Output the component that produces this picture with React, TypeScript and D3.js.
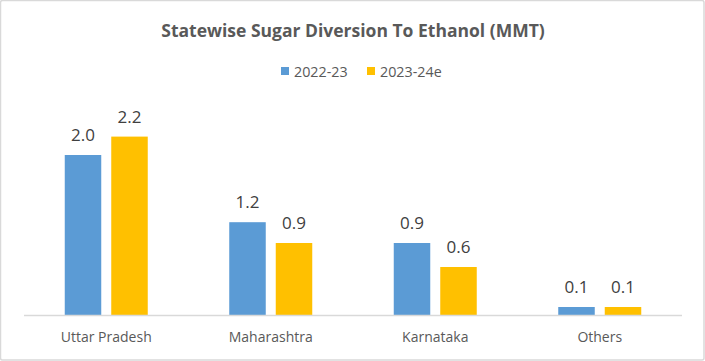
import React from "react";
import * as d3 from "d3";

const categories = ["Uttar Pradesh", "Maharashtra", "Karnataka", "Others"];
const seriesNames = ["2022-23", "2023-24e"];
const values2022 = [2.0, 1.16, 0.9, 0.1];
const values2023 = [2.23, 0.9, 0.6, 0.1];
const colors = ["#5B9BD5", "#FFC000"];
const title = "Statewise Sugar Diversion To Ethanol (MMT)";

const W = 705;
const H = 361;
const FONT = "'Open Sans', 'Liberation Sans', sans-serif";

export default function App() {
  const x = d3.scaleBand<string>().domain(categories).range([24, 682]);
  const y = d3.scaleLinear().domain([0, 2.5]).range([315, 115]);
  const barW = 36.5;
  const gap = 10;
  const series = [values2022, values2023];

  return (
    <div style={{ position: "absolute", left: 0, top: 0 }}>
      <svg width={W} height={H} style={{ display: "block", fontFamily: FONT }}>
        <rect x={0.5} y={0.5} width={W - 1.5} height={H - 1.5} fill="#fff" stroke="#D9D9D9" strokeWidth={1.5} rx={2} />
        <text x={353} y={37} textAnchor="middle" fontSize={17.5} fontWeight="bold" fill="#595959">
          {title}
        </text>
        {seriesNames.map((s, i) => {
          const lx = i === 0 ? 281 : 367;
          return (
            <g key={s}>
              <rect x={lx} y={67} width={8} height={8} fill={colors[i]} />
              <text x={lx + 13} y={76.5} fontSize={14.3} fill="#595959">
                {s}
              </text>
            </g>
          );
        })}
        {categories.map((c, ci) => {
          const cx = (x(c) as number) + x.bandwidth() / 2;
          return (
            <g key={c}>
              {series.map((vals, si) => {
                const bx = si === 0 ? cx - gap / 2 - barW : cx + gap / 2;
                const v = vals[ci];
                return (
                  <g key={si}>
                    <rect x={bx} y={y(v)} width={barW} height={y(0) - y(v)} fill={colors[si]} />
                    <text x={bx + barW / 2} y={y(v) - 14} textAnchor="middle" fontSize={17} fill="#404040">
                      {d3.format(".1f")(v)}
                    </text>
                  </g>
                );
              })}
              <text x={cx} y={342} textAnchor="middle" fontSize={14} fill="#595959">
                {c}
              </text>
            </g>
          );
        })}
        <line x1={24} x2={682} y1={y(0) + 0.5} y2={y(0) + 0.5} stroke="#D9D9D9" strokeWidth={1.5} />
      </svg>
    </div>
  );
}
